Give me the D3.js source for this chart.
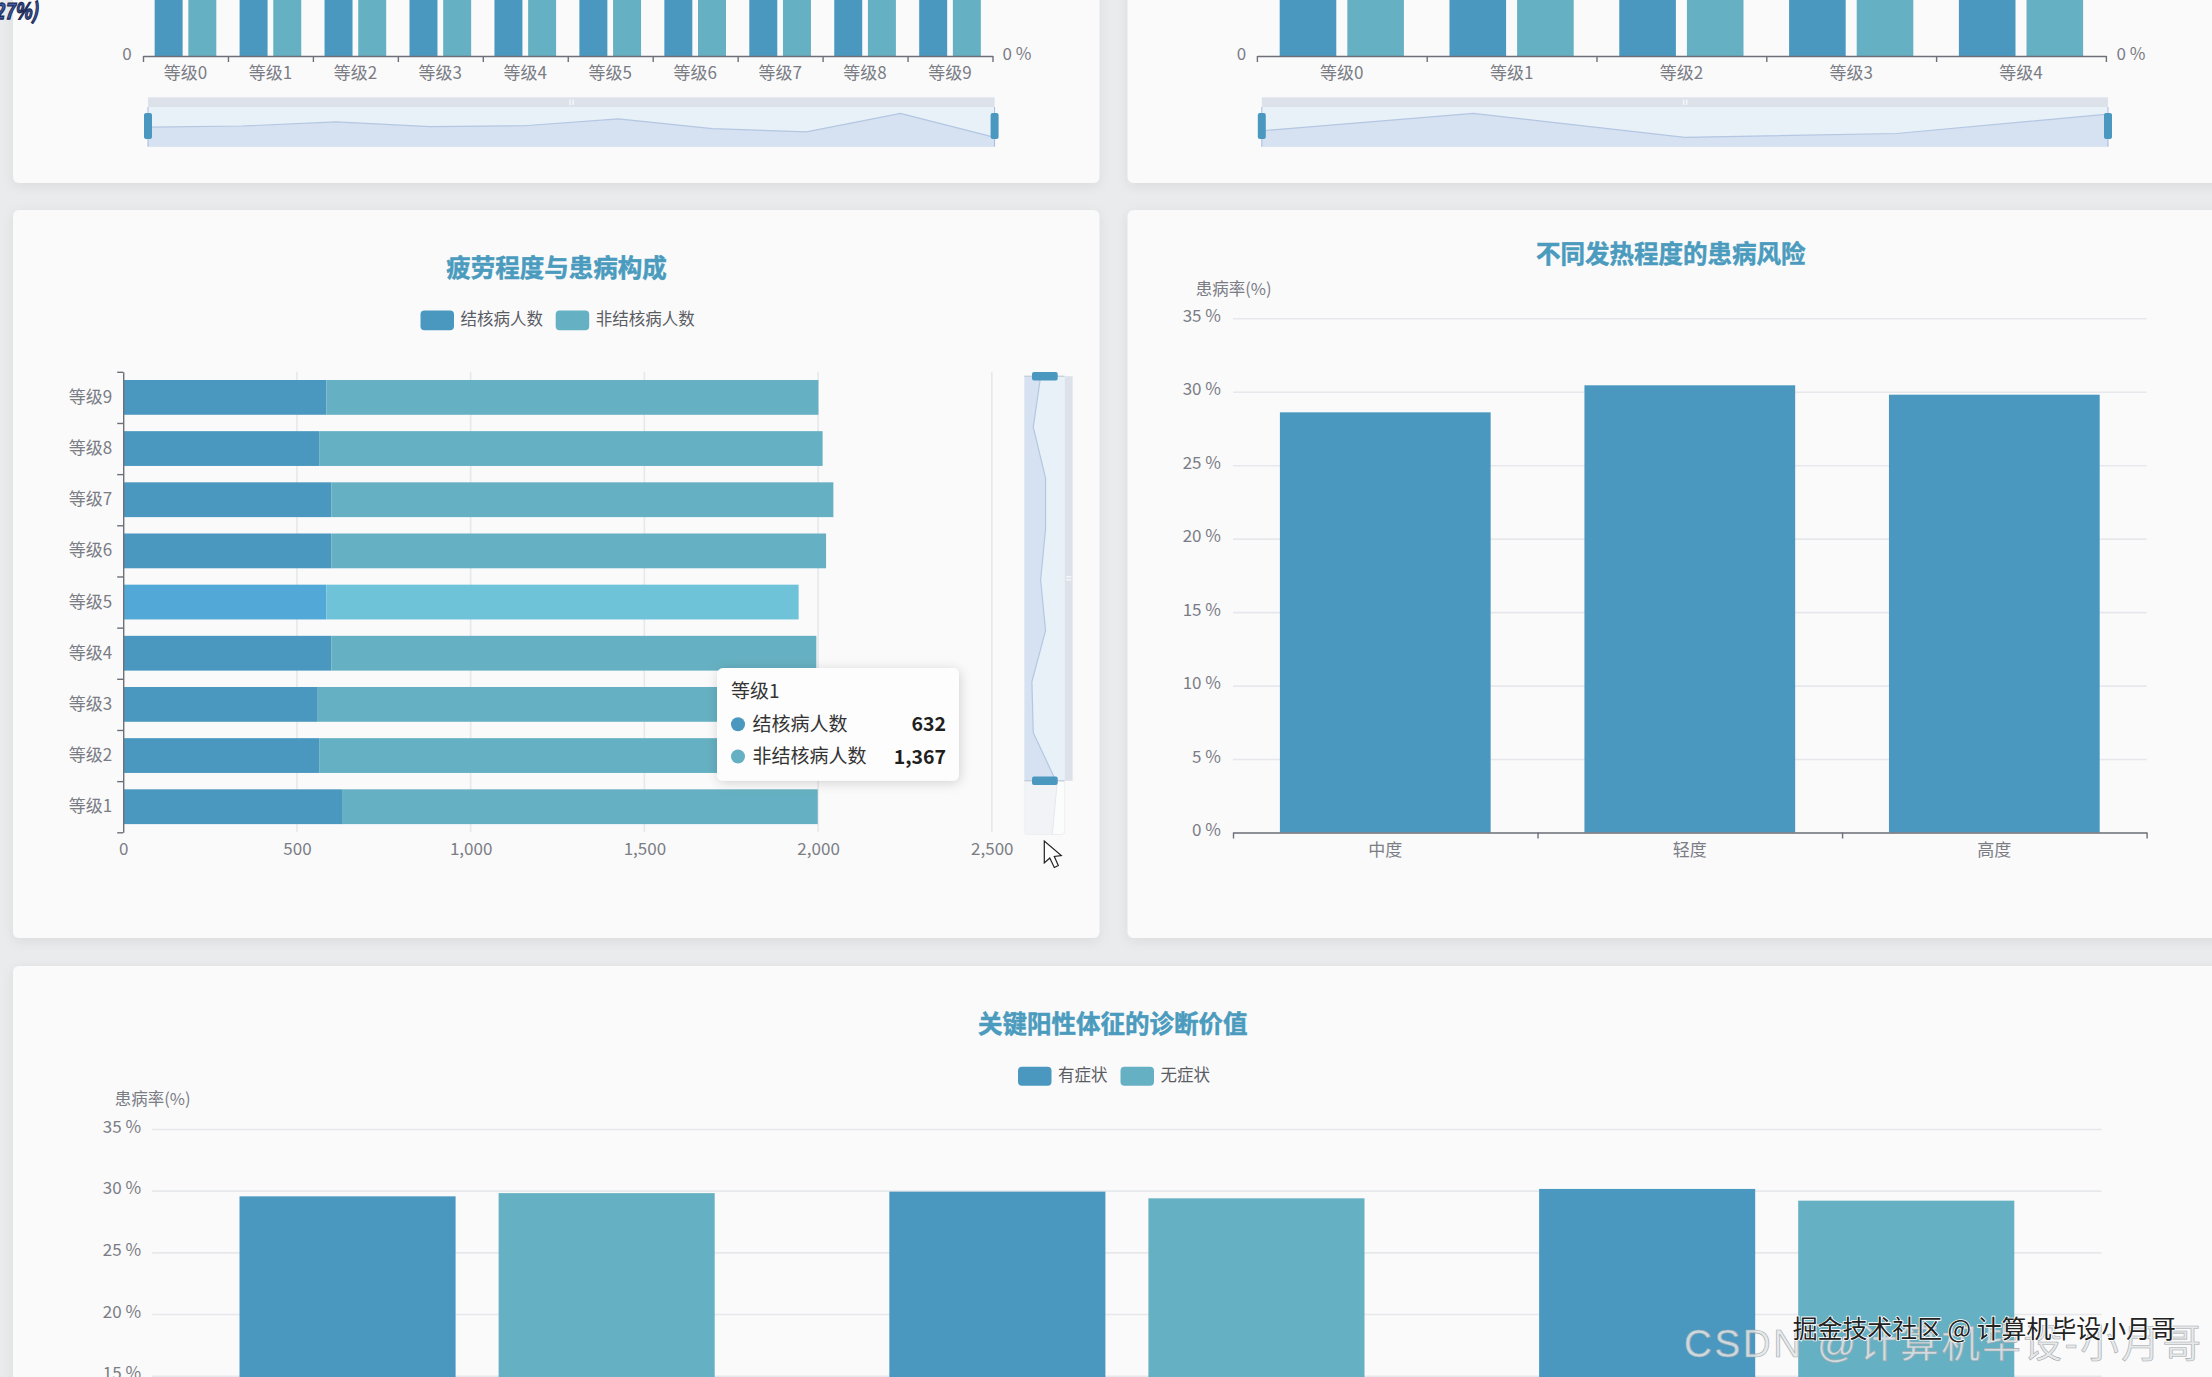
<!DOCTYPE html>
<html>
<head>
<meta charset="utf-8">
<title>结核病数据看板</title>
<script src="https://cdn.jsdelivr.net/npm/d3@7/dist/d3.min.js"></script>
<style>
    html, body { margin: 0; padding: 0; background: #e9ebed; overflow: hidden; }
    svg { display: block; }
    text { font-family: "Noto Sans CJK SC", "Noto Sans", sans-serif; }
    .tick text { fill: #7b7d85; font-size: 17px; }
    .domain, .axis-tick line { stroke: #6e7079; stroke-width: 1.4; }
    .grid line { stroke: #e7e8eb; stroke-width: 1.6; }
</style>
</head>
<body>
<div id="chart"></div>
<script>
const DARK = "#4a98bf";
const TEAL = "#65b0c2";
const DARK_HI = "#52a8d6";
const TEAL_HI = "#6fc3d9";

// top left chart, bars run off the top of the screenshot
const topLeftLevels = ["等级0", "等级1", "等级2", "等级3", "等级4", "等级5", "等级6", "等级7", "等级8", "等级9"];
const topLeftTb = [600, 604, 618, 602, 605, 629, 595, 584, 648, 565];
const topLeftNonTb = [1400, 1396, 1382, 1398, 1395, 1371, 1405, 1416, 1352, 1435];

// top right chart
const topRightLevels = ["等级0", "等级1", "等级2", "等级3", "等级4"];
const topRightTb = [1211, 1294, 1180, 1198, 1290];
const topRightNonTb = [1400, 1390, 1410, 1405, 1395];

// fatigue chart
const fatigueLevels = ["等级0", "等级1", "等级2", "等级3", "等级4", "等级5", "等级6", "等级7", "等级8", "等级9"];
const fatigueTb = [618, 632, 564, 560, 599, 585, 599, 599, 564, 585];
const fatigueNonTb = [1390, 1367, 1430, 1440, 1396, 1359, 1424, 1445, 1449, 1416];
const fatigueTicks = [0, 500, 1000, 1500, 2000, 2500];
const hoverLevel = "等级5";
const tooltipLevel = "等级1";

// fever chart
const feverLevels = ["中度", "轻度", "高度"];
const feverRate = [28.6, 30.44, 29.8];

// signs chart, its category labels are below the screenshot
const signNames = ["体征一", "体征二", "体征三"];
const signWith = [29.54, 29.92, 30.14];
const signWithout = [29.8, 29.38, 29.19];

const rateTicks = [0, 5, 10, 15, 20, 25, 30, 35];

const svg = d3.select("#chart").append("svg")
    .attr("width", 2212)
    .attr("height", 1377);

const defs = svg.append("defs");
const shadow = defs.append("filter").attr("id", "cardShadow")
    .attr("x", "-5%").attr("y", "-5%").attr("width", "110%").attr("height", "110%");
shadow.append("feDropShadow").attr("dx", 0).attr("dy", 3).attr("stdDeviation", 6)
    .attr("flood-color", "#000").attr("flood-opacity", 0.07);
const tipShadow = defs.append("filter").attr("id", "tipShadow")
    .attr("x", "-15%").attr("y", "-15%").attr("width", "130%").attr("height", "130%");
tipShadow.append("feDropShadow").attr("dx", 1).attr("dy", 2).attr("stdDeviation", 6)
    .attr("flood-color", "#000").attr("flood-opacity", 0.16);

const drawCard = (x, y, w, h) => {
    svg.append("rect")
        .attr("x", x).attr("y", y).attr("width", w).attr("height", h)
        .attr("rx", 6)
        .attr("fill", "#fafafb")
        .attr("filter", "url(#cardShadow)");
};

const drawTitle = (text, x, y) => {
    svg.append("text")
        .attr("x", x).attr("y", y).attr("dy", ".36em")
        .attr("text-anchor", "middle")
        .attr("font-size", 24.5)
        .attr("font-weight", 700)
        .attr("fill", "#4a9bbd")
        .attr("stroke", "#4a9bbd")
        .attr("stroke-width", 0.5)
        .text(text);
};

const drawLegend = (items, y, h) => {
    items.forEach(item => {
        svg.append("rect")
            .attr("x", item.x).attr("y", y - h / 2)
            .attr("width", 33.5).attr("height", h)
            .attr("rx", 4)
            .attr("fill", item.color);
        svg.append("text")
            .attr("x", item.x + 40).attr("y", y - 1).attr("dy", ".35em")
            .attr("font-size", 16.5)
            .attr("fill", "#5a5c63")
            .text(item.name);
    });
};

const drawAxisName = (x, y) => {
    svg.append("text")
        .attr("x", x).attr("y", y).attr("dy", ".35em")
        .attr("font-size", 16.5)
        .attr("fill", "#7b7d85")
        .text("患病率(%)");
};

// ticks sit on the band edges, labels in the middle of the band
const drawCategoryAxis = (band, baseline) => {
    const range = band.range();
    const edges = d3.scaleLinear().domain([0, band.domain().length]).range(range);
    const g = svg.append("g").attr("transform", `translate(0,${baseline})`);
    g.append("g").attr("class", "axis-tick")
        .call(d3.axisBottom(edges).tickValues(d3.range(band.domain().length + 1)).tickFormat("").tickSize(6).tickSizeOuter(0));
    g.append("g")
        .call(d3.axisBottom(band).tickSize(0).tickPadding(11))
        .call(a => a.select(".domain").remove());
};

const drawGroupedBars = (levels, tb, nonTb, xRange, y, inner) => {
    const x = d3.scaleBand().domain(levels).range(xRange);
    const group = d3.scaleBand().domain([0, 1]).range([0, x.bandwidth()])
        .paddingInner(inner[0]).paddingOuter(inner[1]);
    [[tb, DARK], [nonTb, TEAL]].forEach(([values, color], s) => {
        svg.append("g").selectAll("rect")
            .data(values)
            .join("rect")
            .attr("x", (d, i) => x(levels[i]) + group(s))
            .attr("y", d => y(d))
            .attr("width", group.bandwidth())
            .attr("height", d => y(0) - y(d))
            .attr("fill", color);
    });
    drawCategoryAxis(x, y(0));
    return x;
};

// horizontal data zoom with the first series as its shadow
const drawSliderH = (values, x0, x1) => {
    const top = 97.3, mid = 107, bottom = 146.7;
    const [min, max] = d3.extent(values);
    const off = (max - min) * 0.3;
    const sx = d3.scaleLinear().domain([0, values.length - 1]).range([x0, x1]);
    const sy = d3.scaleLinear().domain([min - off, max + off]).range([144.5, 106.1]);
    svg.append("rect").attr("x", x0).attr("y", top).attr("width", x1 - x0).attr("height", mid - top).attr("fill", "#dde1ea");
    svg.append("rect").attr("x", x0).attr("y", mid).attr("width", x1 - x0).attr("height", bottom - mid).attr("fill", "#e9f1f8");
    const area = d3.area().x((d, i) => sx(i)).y0(bottom).y1(d => sy(d));
    const line = d3.line().x((d, i) => sx(i)).y(d => sy(d));
    svg.append("path").datum(values).attr("d", area).attr("fill", "#d6e1f1");
    svg.append("path").datum(values).attr("d", line).attr("fill", "none").attr("stroke", "#b3c7e2").attr("stroke-width", 1.2);
    [x0, x1].forEach(x => {
        svg.append("line").attr("x1", x).attr("x2", x).attr("y1", mid).attr("y2", bottom).attr("stroke", "#a9bbdd");
        svg.append("rect").attr("x", x - 4).attr("y", 113).attr("width", 8).attr("height", 26).attr("rx", 2).attr("fill", DARK);
    });
    [-2, 1].forEach(dx => {
        svg.append("rect").attr("x", (x0 + x1) / 2 + dx).attr("y", 99.5).attr("width", 1.5).attr("height", 5.5).attr("fill", "#f4f6f9");
    });
};

const drawSliderV = (values) => {
    const left = 1024.3, right = 1064.7, handleRight = 1072.7;
    const top = 376.2, bottom = 780.8, end = 834.5;
    const [min, max] = d3.extent(values);
    const off = (max - min) * 0.3;
    const sx = d3.scaleLinear().domain([min - off, max + off]).range([left, right]);
    const sy = d3.scaleLinear().domain([values.length - 1, 0]).range([top, end]);
    const area = d3.area().y((d, i) => sy(i)).x0(left).x1(d => sx(d));
    const line = d3.line().y((d, i) => sy(i)).x(d => sx(d));

    // part outside of the window is washed out
    svg.append("rect").attr("x", left).attr("y", bottom).attr("width", right - left).attr("height", end - bottom)
        .attr("rx", 3).attr("fill", "#fbfcfc").attr("stroke", "#eceef1");
    defs.append("clipPath").attr("id", "winOut").append("rect").attr("x", left).attr("y", bottom).attr("width", right - left).attr("height", end - bottom);
    defs.append("clipPath").attr("id", "winIn").append("rect").attr("x", left).attr("y", top).attr("width", right - left).attr("height", bottom - top);
    svg.append("path").datum(values).attr("d", area).attr("fill", "#f1f3f7").attr("clip-path", "url(#winOut)");
    svg.append("path").datum(values).attr("d", line).attr("fill", "none").attr("stroke", "#e4e7ed").attr("clip-path", "url(#winOut)");

    svg.append("rect").attr("x", left).attr("y", top).attr("width", right - left).attr("height", bottom - top).attr("fill", "#e9f1f8");
    svg.append("rect").attr("x", right).attr("y", top).attr("width", handleRight - right).attr("height", bottom - top).attr("fill", "#dde1ea");
    svg.append("path").datum(values).attr("d", area).attr("fill", "#d6e1f1").attr("clip-path", "url(#winIn)");
    svg.append("path").datum(values).attr("d", line).attr("fill", "none").attr("stroke", "#b3c7e2").attr("stroke-width", 1.2).attr("clip-path", "url(#winIn)");
    [top, bottom].forEach(y => {
        svg.append("line").attr("x1", left).attr("x2", right).attr("y1", y).attr("y2", y).attr("stroke", "#b9c4d4");
        svg.append("rect").attr("x", 1032).attr("y", y - 4.3).attr("width", 25.7).attr("height", 8.6).attr("rx", 2).attr("fill", DARK);
    });
    [-2, 1].forEach(dy => {
        svg.append("rect").attr("x", 1066.2).attr("y", 578 + dy).attr("width", 5).attr("height", 1.5).attr("fill", "#f4f6f9");
    });
};

// cards
drawCard(13, -40, 1086.4, 223);
drawCard(1127.6, -40, 1120, 223);
drawCard(13, 210, 1086.4, 728);
drawCard(1127.6, 210, 1120, 728);
drawCard(13, 966, 2240, 460);

// fragment of the pie label above the crop
svg.append("text")
    .attr("transform", "translate(38,19) scale(0.8,1)")
    .attr("text-anchor", "end")
    .attr("font-size", 22)
    .attr("font-weight", 700)
    .attr("font-style", "italic")
    .attr("fill", "#3f5fae")
    .attr("stroke", "#1d2a55")
    .attr("stroke-width", 1.3)
    .text("(27%)");

// ---- top left ----
const topLeftY = d3.scaleLinear().domain([0, 1600]).range([56, -420]);
drawGroupedBars(topLeftLevels, topLeftTb, topLeftNonTb, [143, 992.5], topLeftY, [0.169, 0.346]);
const sideLabel = (text, x, anchor) => {
    svg.append("text").attr("x", x).attr("y", 54.3).attr("dy", ".35em")
        .attr("text-anchor", anchor).attr("font-size", 17).attr("fill", "#7b7d85").text(text);
};
sideLabel("0", 131.7, "end");
sideLabel("0 %", 1002.4, "start");
drawSliderH(topLeftTb, 148, 994.6);

// ---- top right ----
const topRightY = d3.scaleLinear().domain([0, 1600]).range([56, -420]);
drawGroupedBars(topRightLevels, topRightTb, topRightNonTb, [1256.9, 2105.9], topRightY, [0.163, 0.337]);
sideLabel("0", 1246.3, "end");
sideLabel("0 %", 2116.4, "start");
drawSliderH(topRightTb, 1261.8, 2108);

// ---- fatigue ----
drawTitle("疲劳程度与患病构成", 556.4, 267.7);
drawLegend([
    { name: "结核病人数", color: DARK, x: 420.5 },
    { name: "非结核病人数", color: TEAL, x: 555.7 }
], 320.4, 19.6);

const fatigueRows = fatigueLevels.map((level, i) => ({ level, tb: fatigueTb[i], nonTb: fatigueNonTb[i] })).slice(1);
const fatigueX = d3.scaleLinear().domain([0, 2500]).range([123.2, 991.8]);
const fatigueY = d3.scaleBand().domain(fatigueRows.map(d => d.level)).range([832.3, 371.8])
    .paddingInner(0.32).paddingOuter(0.16);

svg.append("g").attr("class", "grid")
    .selectAll("line")
    .data(fatigueTicks.slice(1))
    .join("line")
    .attr("x1", d => fatigueX(d)).attr("x2", d => fatigueX(d))
    .attr("y1", 371.8).attr("y2", 832.3);

svg.append("g").selectAll("rect")
    .data(fatigueRows)
    .join("rect")
    .attr("x", fatigueX(0))
    .attr("y", d => fatigueY(d.level))
    .attr("width", d => fatigueX(d.tb) - fatigueX(0))
    .attr("height", fatigueY.bandwidth())
    .attr("fill", d => d.level === hoverLevel ? DARK_HI : DARK);
svg.append("g").selectAll("rect")
    .data(fatigueRows)
    .join("rect")
    .attr("x", d => fatigueX(d.tb))
    .attr("y", d => fatigueY(d.level))
    .attr("width", d => fatigueX(d.tb + d.nonTb) - fatigueX(d.tb))
    .attr("height", fatigueY.bandwidth())
    .attr("fill", d => d.level === hoverLevel ? TEAL_HI : TEAL);

svg.append("g")
    .attr("transform", "translate(0,832.3)")
    .call(d3.axisBottom(fatigueX).tickValues(fatigueTicks).tickFormat(d3.format(",")).tickSize(0).tickPadding(11))
    .call(a => a.select(".domain").remove());

const fatigueEdges = d3.scaleLinear().domain([0, fatigueRows.length]).range([832.3, 371.8]);
svg.append("g").attr("class", "axis-tick")
    .attr("transform", `translate(${fatigueX(0)},0)`)
    .call(d3.axisLeft(fatigueEdges).tickValues(d3.range(fatigueRows.length + 1)).tickFormat("").tickSize(6).tickSizeOuter(0));
svg.append("g")
    .attr("transform", `translate(${fatigueX(0)},0)`)
    .call(d3.axisLeft(fatigueY).tickSize(0).tickPadding(11))
    .call(a => a.select(".domain").remove());

drawSliderV(fatigueTb);

// tooltip
const tipRow = fatigueRows.find(d => d.level === tooltipLevel);
const tip = svg.append("g").attr("transform", "translate(717,668)");
tip.append("rect").attr("width", 242).attr("height", 112.7).attr("rx", 6).attr("fill", "#fdfdfd").attr("filter", "url(#tipShadow)");
tip.append("text").attr("x", 14).attr("y", 23).attr("dy", ".36em").attr("font-size", 19).attr("fill", "#333").text(tipRow.level);
[["结核病人数", tipRow.tb, DARK, 56.3], ["非结核病人数", tipRow.nonTb, TEAL, 88.5]].forEach(([name, value, color, y]) => {
    tip.append("circle").attr("cx", 21).attr("cy", y).attr("r", 7).attr("fill", color);
    tip.append("text").attr("x", 35.5).attr("y", y).attr("dy", ".36em").attr("font-size", 19).attr("fill", "#333").text(name);
    tip.append("text").attr("x", 229).attr("y", y).attr("dy", ".36em").attr("text-anchor", "end")
        .attr("font-size", 19.5).attr("font-weight", 700).attr("fill", "#1f1f1f").text(d3.format(",")(value));
});

// mouse pointer of the screen recording
svg.append("path")
    .attr("transform", "translate(1044.3,841)")
    .attr("d", "M0 0 L0 22 L5.5 17 L10 26.5 L14 24.5 L10 15.5 L17 14.5 Z")
    .attr("fill", "#fff")
    .attr("stroke", "#222")
    .attr("stroke-width", 1.2);

// ---- fever ----
drawTitle("不同发热程度的患病风险", 1670.8, 254);
drawAxisName(1195.7, 289);
const feverY = d3.scaleLinear().domain([0, 35]).range([832.5, 318.3]);
const feverX = d3.scaleBand().domain(feverLevels).range([1233, 2146.6]).paddingInner(0.308).paddingOuter(0.154);
svg.append("g").attr("class", "grid")
    .attr("transform", "translate(1233,0)")
    .call(d3.axisLeft(feverY).tickValues(rateTicks).tickFormat(d => d + " %").tickSize(-913.6).tickPadding(12))
    .call(a => a.select(".domain").remove())
    .call(a => a.selectAll(".tick text").attr("dy", ".18em"));
svg.append("g").selectAll("rect")
    .data(feverRate)
    .join("rect")
    .attr("x", (d, i) => feverX(feverLevels[i]))
    .attr("y", d => feverY(d))
    .attr("width", feverX.bandwidth())
    .attr("height", d => feverY(0) - feverY(d))
    .attr("fill", DARK);
const feverAxisX = d3.scaleBand().domain(feverLevels).range([1233, 2146.6]);
drawCategoryAxis(feverAxisX, feverY(0));

// ---- signs ----
drawTitle("关键阳性体征的诊断价值", 1112.7, 1024);
drawLegend([
    { name: "有症状", color: DARK, x: 1018 },
    { name: "无症状", color: TEAL, x: 1120.5 }
], 1076.3, 19);
drawAxisName(114.7, 1099);
const signY = d3.scaleLinear().domain([0, 35]).range([1560.7, 1129]);
const signX = d3.scaleBand().domain(signNames).range([152.2, 2101.6]);
const signGroup = d3.scaleBand().domain([0, 1]).range([0, signX.bandwidth()]).paddingInner(0.166).paddingOuter(0.337);
svg.append("g").attr("class", "grid")
    .attr("transform", "translate(152.2,0)")
    .call(d3.axisLeft(signY).tickValues(rateTicks).tickFormat(d => d + " %").tickSize(-1949.4).tickPadding(11))
    .call(a => a.select(".domain").remove())
    .call(a => a.selectAll(".tick text").attr("dy", ".18em"));
[[signWith, DARK], [signWithout, TEAL]].forEach(([values, color], s) => {
    svg.append("g").selectAll("rect")
        .data(values)
        .join("rect")
        .attr("x", (d, i) => signX(signNames[i]) + signGroup(s))
        .attr("y", d => signY(d))
        .attr("width", signGroup.bandwidth())
        .attr("height", d => signY(0) - signY(d))
        .attr("fill", color);
});

// watermarks burnt into the video
svg.append("text")
    .attr("x", 1684).attr("y", 1343).attr("dy", ".35em")
    .style("font-family", "'Liberation Sans', 'Noto Sans CJK SC', sans-serif")
    .style("letter-spacing", "2.6px")
    .attr("font-size", 38.6)
    .attr("fill", "#e3e6e8")
    .attr("fill-opacity", 0.85)
    .attr("stroke", "#a5a9ad")
    .attr("stroke-width", 0.6)
    .text("CSDN @计算机毕设-小月哥");
svg.append("text")
    .attr("x", 1792.7).attr("y", 1329).attr("dy", ".35em")
    .attr("font-size", 24.9)
    .attr("fill", "#222")
    .attr("stroke", "#fff")
    .attr("stroke-width", 1.6)
    .attr("paint-order", "stroke")
    .text("掘金技术社区 @ 计算机毕设小月哥");
</script>
</body>
</html>
